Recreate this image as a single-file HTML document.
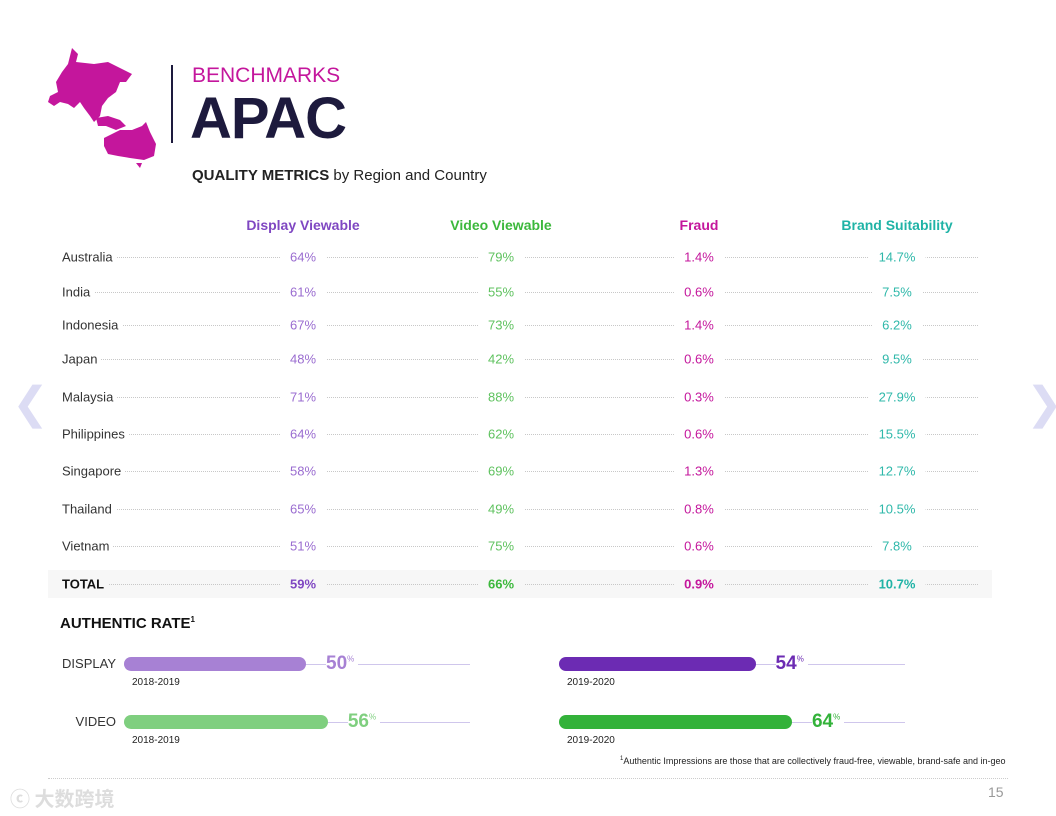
<!DOCTYPE html>
<html><head><meta charset="utf-8">
<style>
body{margin:0;width:1056px;height:816px;background:#fff;position:relative;overflow:hidden;font-family:"Liberation Sans",sans-serif;}
.a{position:absolute;white-space:nowrap;}
.dot{position:absolute;height:0;border-top:1px dotted #c8c8c8;}
.lbl{position:absolute;font-size:13px;color:#333;background:#fff;padding-right:4px;transform:translateY(-50%);}
.val{position:absolute;font-size:13px;background:#fff;padding:0 10px;transform:translate(-50%,-50%);}
.hdr{position:absolute;font-size:14px;font-weight:bold;transform:translateX(-50%);}
</style></head><body>
<svg class="a" style="left:46px;top:46px" width="112" height="125">
<path d="M26 2 L32 8 L30 16 L48 18 L62 16 L74 22 L86 28 L80 36 L74 36 L70 46 L62 52 L56 60 L54 70 L48 76 L44 70 L38 62 L34 56 L28 62 L22 58 L14 56 L8 60 L2 56 L4 50 L12 46 L10 36 L16 26 L22 18 Z" fill="#c4169c"/>
<path d="M50 72 L62 70 L74 74 L80 80 L70 84 L60 80 L52 80 Z" fill="#c4169c"/>
<path d="M58 92 L74 84 L86 84 L96 80 L100 76 L104 86 L110 98 L108 110 L98 114 L84 112 L72 110 L62 108 L58 100 Z" fill="#c4169c"/>
<path d="M90 117 L96 117 L94 122 Z" fill="#c4169c"/>
</svg>
<div class="a" style="left:171px;top:65px;width:2px;height:78px;background:#1d1a3d"></div>
<div class="a" style="left:192px;top:64px;font-size:21px;color:#c4169c">BENCHMARKS</div>
<div class="a" style="left:190px;top:85px;font-size:58px;font-weight:bold;color:#1d1a3d;letter-spacing:-1px">APAC</div>
<div class="a" style="left:192px;top:167px;font-size:15px;color:#222"><b>QUALITY METRICS</b> by Region and Country</div>

<div class="a" style="left:48px;top:570px;width:944px;height:28px;background:#f7f7f7"></div>
<div id="tbl"></div>

<div class="a" style="left:60px;top:615px;font-size:15px;font-weight:bold;color:#111">AUTHENTIC RATE<sup style="font-size:8px">1</sup></div>
<div id="bars"></div>

<div class="a" style="left:620px;top:756px;font-size:9px;color:#222"><sup style="font-size:6px">1</sup>Authentic Impressions are those that are collectively fraud-free, viewable, brand-safe and in-geo</div>
<div class="dot" style="left:48px;top:778px;width:960px;border-color:#ccc"></div>
<div class="a" style="left:988px;top:784px;font-size:14px;color:#999">15</div>
<div class="a" style="left:12px;top:378px;font-size:44px;color:#dcdcf4">&#10094;</div>
<div class="a" style="left:1026px;top:378px;font-size:44px;color:#dcdcf4">&#10095;</div>
<div class="a" style="left:10px;top:783px;font-size:20px;color:#ddd;font-family:'Noto Sans CJK SC',sans-serif;font-weight:bold">ⓒ 大数跨境</div>

<script>
const countries=["Australia","India","Indonesia","Japan","Malaysia","Philippines","Singapore","Thailand","Vietnam"];
const displayViewable=["64%","61%","67%","48%","71%","64%","58%","65%","51%"];
const videoViewable=["79%","55%","73%","42%","88%","62%","69%","49%","75%"];
const fraud=["1.4%","0.6%","1.4%","0.6%","0.3%","0.6%","1.3%","0.8%","0.6%"];
const brandSuitability=["14.7%","7.5%","6.2%","9.5%","27.9%","15.5%","12.7%","10.5%","7.8%"];
const totals=["59%","66%","0.9%","10.7%"];
const headers=["Display Viewable","Video Viewable","Fraud","Brand Suitability"];
const authCats=["DISPLAY","VIDEO"];
const auth1819=[50,56];
const auth1920=[54,64];

const colX=[303,501,699,897];
const colColors=["#7f47c2","#3cb83c","#c4169c","#1fb3a6"];
const valColors=["#9a6cd0","#5fc25f","#c4169c","#2fb8aa"];
const rowY=[257,292,325,359,397,434,471,509,546];
const tbl=document.getElementById('tbl');
function add(html){const d=document.createElement('div');d.innerHTML=html;const e=d.firstChild;tbl.appendChild(e);return e;}
headers.forEach((h,i)=>{
  const e=add(`<div class="hdr" style="left:${colX[i]}px;top:217px;color:${colColors[i]}">${h}</div>`);
  
  
});
const cols=[displayViewable,videoViewable,fraud,brandSuitability];
function row(name,vals,y,bold,bg){
  const d=add(`<div class="dot" style="left:62px;top:${y}px;width:916px"></div>`);
  
  
  const l=add(`<div class="lbl" style="left:62px;top:${y}px;background:${bg};${bold?'font-weight:bold;color:#111;font-size:13px':''}">${name}</div>`);
  
  
  vals.forEach((v,i)=>{
    const e=add(`<div class="val" style="left:${colX[i]}px;top:${y}px;background:${bg};color:${bold?colColors[i]:valColors[i]};${bold?'font-weight:bold;font-size:13px':''}">${v}</div>`);
    
    
  });
}
countries.forEach((c,r)=>row(c,cols.map(a=>a[r]),rowY[r],false,'#fff'));
row("TOTAL",totals,584,true,'#f7f7f7');

const bars=document.getElementById('bars');
const pxPer=3.64;
const barY=[664,722];
function bar(x0,v,y,col,numCol,lineEnd,period){
  const w=v*pxPer;
  let e=document.createElement('div');e.className='a';
  e.style.cssText=`left:${x0}px;top:${y}px;width:${lineEnd-x0}px;height:1px;background:#cfc6ec`;
  
  
  bars.appendChild(e);
  e=document.createElement('div');e.className='a';
  e.style.cssText=`left:${x0}px;top:${y-7}px;width:${w}px;height:14px;border-radius:7px;background:${col}`;
  
  
  bars.appendChild(e);
  e=document.createElement('div');e.className='a';
  e.style.cssText=`left:${x0+w+20}px;top:${y-11}px;font-size:19px;font-weight:bold;color:${numCol};background:#fff;padding-right:4px`;
  e.innerHTML=v+'<sup style="font-size:8px;font-weight:normal">%</sup>';
  
  
  bars.appendChild(e);
  e=document.createElement('div');e.className='a';
  e.style.cssText=`left:${x0+8}px;top:${y+13}px;font-size:10px;color:#222`;
  e.textContent=period;
  
  
  bars.appendChild(e);
}
const c1=["#a781d4","#7fcf7f"],c2=["#6c2bb3","#33b23a"],n1=["#a781d4","#7fcf7f"],n2=["#6c2bb3","#33b23a"];
authCats.forEach((c,i)=>{
  const e=document.createElement('div');e.className='a';
  e.style.cssText=`right:${1056-116}px;top:${barY[i]-8}px;font-size:13px;color:#333`;
  e.textContent=c;
  
  
  bars.appendChild(e);
  bar(124,auth1819[i],barY[i],c1[i],n1[i],470,'2018-2019');
  bar(559,auth1920[i],barY[i],c2[i],n2[i],905,'2019-2020');
});
</script>
</body></html>
